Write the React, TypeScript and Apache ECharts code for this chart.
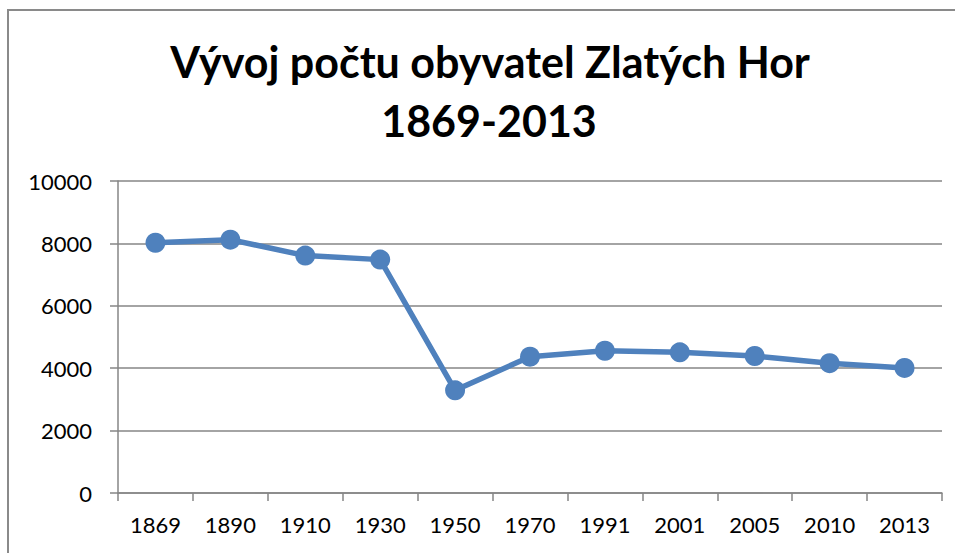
import React, { useEffect, useRef } from "react";
import * as echarts from "echarts";

const titleLine1 = "Vývoj počtu obyvatel Zlatých Hor";
const titleLine2 = "1869-2013";
const years = ["1869", "1890", "1910", "1930", "1950", "1970", "1991", "2001", "2005", "2010", "2013"];
const population = [8020, 8120, 7610, 7480, 3290, 4370, 4560, 4510, 4390, 4160, 4010];
const yMin = 0;
const yMax = 10000;
const yInterval = 2000;

export default function App() {
  const ref = useRef<HTMLDivElement>(null);
  useEffect(() => {
    if (!ref.current) return;
    const chart = echarts.init(ref.current, undefined, { renderer: "svg" });
    const font = "Lato, 'Open Sans', sans-serif";
    chart.setOption({
      animation: false,
      backgroundColor: "#ffffff",
      textStyle: { fontFamily: font },
      graphic: [
        {
          type: "rect",
          shape: { x: 8, y: 10, width: 970, height: 600 },
          style: { fill: "none", stroke: "#8a8a8a", lineWidth: 2 },
          silent: true,
        },
        {
          type: "text",
          x: 490,
          y: 61,
          style: {
            text: titleLine1,
            textAlign: "center",
            textVerticalAlign: "middle",
            fontFamily: font,
            fontWeight: "bold",
            fontSize: 43,
            fill: "#000000",
          },
        },
        {
          type: "text",
          x: 489,
          y: 120,
          style: {
            text: titleLine2,
            textAlign: "center",
            textVerticalAlign: "middle",
            fontFamily: font,
            fontWeight: "bold",
            fontSize: 43,
            fill: "#000000",
          },
        },
      ],
      grid: { left: 118, right: 13, top: 181, bottom: 60, containLabel: false },
      xAxis: {
        type: "category",
        data: years,
        boundaryGap: true,
        axisLine: { lineStyle: { color: "#868686", width: 1.5 } },
        axisTick: { show: true, length: 8, lineStyle: { color: "#868686", width: 1.5 } },
        axisLabel: { color: "#000000", fontSize: 22, fontFamily: font, margin: 20, interval: 0 },
      },
      yAxis: {
        type: "value",
        min: yMin,
        max: yMax,
        interval: yInterval,
        axisLine: { show: true, lineStyle: { color: "#868686", width: 1.5 } },
        axisTick: { show: true, length: 8, lineStyle: { color: "#868686", width: 1.5 } },
        axisLabel: {
          color: "#000000",
          fontSize: 22,
          fontFamily: font,
          margin: 26,
          formatter: (v: number) => String(v),
        },
        splitLine: { show: true, lineStyle: { color: "#868686", width: 1.5 } },
      },
      series: [
        {
          type: "line",
          data: population,
          symbol: "circle",
          symbolSize: 20,
          lineStyle: { color: "#4F81BD", width: 5.5 },
          itemStyle: { color: "#4F81BD" },
        },
      ],
    });
    return () => chart.dispose();
  }, []);
  return (
    <div
      ref={ref}
      style={{ position: "fixed", left: 0, top: 0, width: 955, height: 553 }}
    />
  );
}
